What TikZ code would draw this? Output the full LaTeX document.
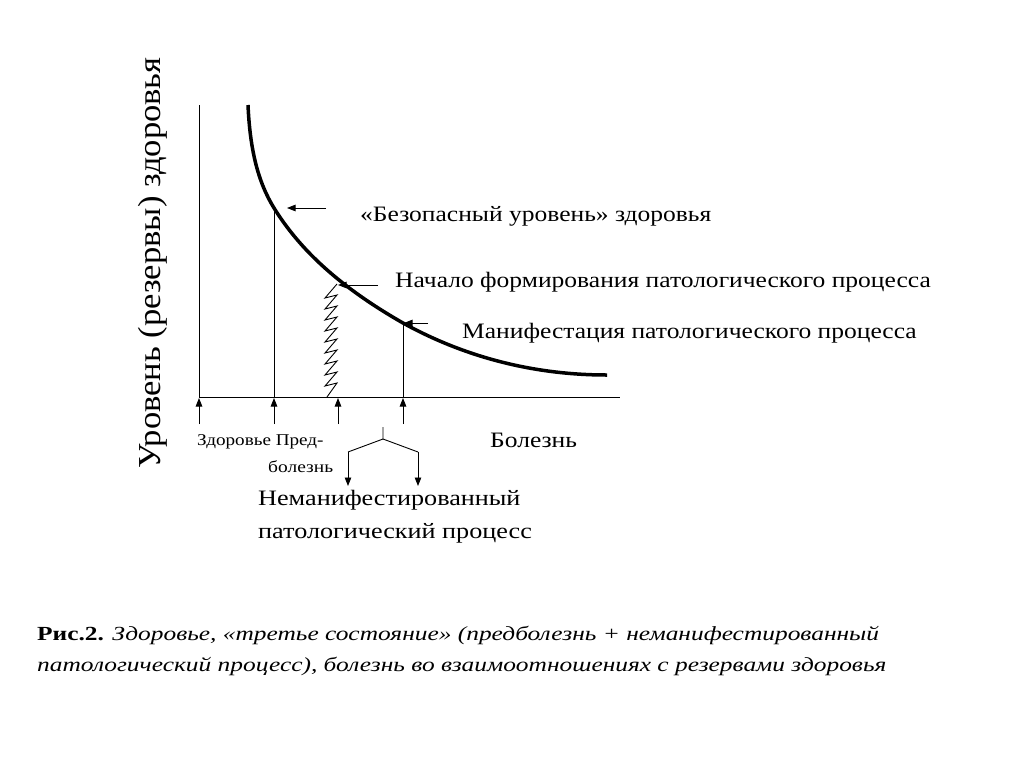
\documentclass[tikz,border=0pt]{standalone}
\usepackage{fontspec}
\setmainfont{Liberation Serif}
\usetikzlibrary{arrows.meta}
\newcommand{\wide}[2]{\scalebox{#1}[1]{#2}}
\begin{document}
\begin{tikzpicture}[x=1pt,y=-1pt,
  thinline/.style={line width=0.9pt,black},
  arr/.style={thinline,-{Triangle[length=8.5pt,width=6.5pt]}},
  lbl/.style={anchor=base west,inner sep=0pt,font=\fontsize{22}{26}\selectfont},
  small/.style={anchor=base west,inner sep=0pt,font=\fontsize{16.5}{19}\selectfont},
  captext/.style={anchor=base west,inner sep=0pt,font=\fontsize{20}{24}\selectfont}]
\useasboundingbox (0,0) rectangle (1024,768);
% axes
\coordinate (O) at (199,397);
\coordinate (ytop) at (199,105);
\coordinate (xend) at (620,397);
\draw[thinline] (ytop) -- (O) -- (xend);
% curve
\draw[line width=3.5pt,black] (248,105) .. controls (250,150) and (258,182) .. (274,208)
  .. controls (300,250) and (340,287) .. (403,323)
  .. controls (470,360) and (540,375) .. (607,375);
% verticals
\coordinate (p1) at (274,207);
\coordinate (p1b) at (274,397);
\coordinate (p3) at (403,323);
\coordinate (p3b) at (403,397);
\draw[thinline] (p1) -- (p1b);
\draw[thinline] (p3) -- (p3b);
% zigzag
\draw[thinline] (337,284)
  -- (325,298) -- (337,295) -- (325,309) -- (337,306) -- (325,320) -- (337,317)
  -- (325,331) -- (337,328) -- (325,342) -- (337,339) -- (325,353) -- (337,350)
  -- (325,364) -- (337,361) -- (325,375) -- (337,372) -- (325,386) -- (337,383) -- (327,397);
% pointer arrows
\coordinate (a1s) at (326,208); \coordinate (a1e) at (287,208);
\coordinate (a2s) at (378,285); \coordinate (a2e) at (338,285);
\coordinate (a3s) at (428,323); \coordinate (a3e) at (404,323);
\draw[arr] (a1s) -- (a1e);
\draw[arr] (a2s) -- (a2e);
\draw[arr] (a3s) -- (a3e);
% up arrows
\foreach \x/\n in {199/u1,274/u2,338/u3,403/u4}{
  \coordinate (\n s) at (\x,424);
  \coordinate (\n e) at (\x,398);
  \draw[arr] (\n s) -- (\n e);
}
% brace
\coordinate (b0) at (383,427);
\coordinate (b1) at (383,439);
\coordinate (bl) at (348,452);
\coordinate (br) at (418,452);
\coordinate (bld) at (348,486);
\coordinate (brd) at (418,486);
\draw[thinline] (b0) -- (b1) -- (bl);
\draw[thinline] (b1) -- (br);
\draw[arr] (bl) -- (bld);
\draw[arr] (br) -- (brd);
% labels
\node[lbl] (t1) at (360,221) {\wide{1.16}{«Безопасный уровень» здоровья}};
\node[lbl] (t2) at (395,287) {\wide{1.16}{Начало формирования патологического процесса}};
\node[lbl] (t3) at (462,338) {\wide{1.16}{Манифестация патологического процесса}};
\node[small] (z1) at (197,445) {\wide{1.16}{Здоровье Пред-}};
\node[small] (z2) at (268,472) {\wide{1.18}{болезнь}};
\node[lbl] (bol) at (490,447) {\wide{1.16}{Болезнь}};
\node[lbl] (nm1) at (258,505) {\wide{1.19}{Неманифестированный}};
\node[lbl] (nm2) at (258,538) {\wide{1.19}{патологический процесс}};
\node[anchor=center,inner sep=0pt,rotate=90,font=\fontsize{32}{36}\selectfont] (ylab) at (153,263) {\wide{1.08}{Уровень (резервы) здоровья}};
% caption
\node[captext] (cap1) at (37,640) {\wide{1.27}{\textbf{Рис.2.} \textit{Здоровье, «третье состояние» (предболезнь + неманифестированный}}};
\node[captext] (cap2) at (37,671) {\wide{1.27}{\textit{патологический процесс), болезнь во взаимоотношениях с резервами здоровья}}};
\end{tikzpicture}
\end{document}
